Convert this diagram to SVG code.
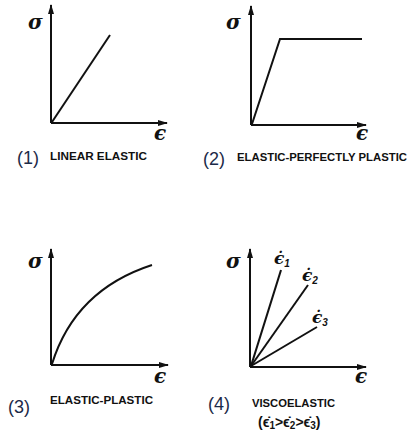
<svg xmlns="http://www.w3.org/2000/svg" width="409" height="440" viewBox="0 0 409 440">
<defs>
<marker id="ah" markerWidth="10" markerHeight="6" refX="9" refY="3" orient="auto" markerUnits="userSpaceOnUse">
<path d="M0,0 L10,3 L0,6 Z" fill="#111"/>
</marker>
</defs>
<style>
.ax{stroke:#111;stroke-width:2;fill:none}
.cv{stroke:#111;stroke-width:2;fill:none}
.gk{font-family:"DejaVu Serif","Liberation Serif",serif;font-style:italic;font-weight:bold;font-size:20px;fill:#111}
.sm{font-family:"DejaVu Serif","Liberation Serif",serif;font-style:italic;font-weight:bold;font-size:17px;fill:#111}
.sub{font-family:"Liberation Sans",sans-serif;font-size:10px;font-weight:bold;fill:#111}
.num{font-family:"Liberation Sans",Arial,sans-serif;font-size:18px;fill:#1c2a48}
.cap{font-family:"Liberation Sans",Arial,sans-serif;font-size:10px;font-weight:bold;fill:#111}
.cap2{font-family:"Liberation Sans",Arial,sans-serif;font-size:14px;font-weight:bold;fill:#111}
</style>
<rect width="409" height="440" fill="#fff"/>
<g id="connectors">
<path class="ax" d="M51,123 L51,5" marker-end="url(#ah)"/>
<path class="ax" d="M51,123 L167,123" marker-end="url(#ah)"/>
<path class="ax" d="M251,125 L251,6" marker-end="url(#ah)"/>
<path class="ax" d="M251,125 L366,125" marker-end="url(#ah)"/>
<path class="ax" d="M51,365 L51,249" marker-end="url(#ah)"/>
<path class="ax" d="M51,365 L168,365" marker-end="url(#ah)"/>
<path class="ax" d="M250,367 L250,249" marker-end="url(#ah)"/>
<path class="ax" d="M250,367 L366,367" marker-end="url(#ah)"/>
</g>
<g id="panel1">
<path class="cv" d="M52,122 L110,35"/>
<text class="gk" x="28" y="29">σ</text>
<text class="gk" x="154" y="140">ϵ</text>
<text class="num" x="17" y="164">(1)</text>
<text class="cap" x="50" y="160" textLength="97" lengthAdjust="spacingAndGlyphs">LINEAR ELASTIC</text>
</g>
<g id="panel2">
<path class="cv" d="M252,124 L280,39 L362,39"/>
<text class="gk" x="226" y="29">σ</text>
<text class="gk" x="356" y="140">ϵ</text>
<text class="num" x="203" y="165">(2)</text>
<text class="cap" x="237" y="161" textLength="170" lengthAdjust="spacingAndGlyphs">ELASTIC-PERFECTLY PLASTIC</text>
</g>
<g id="panel3">
<path class="cv" d="M52,364 Q75,290 152,265"/>
<text class="gk" x="28" y="268">σ</text>
<text class="gk" x="154" y="383">ϵ</text>
<text class="num" x="8" y="413">(3)</text>
<text class="cap" x="50" y="404" textLength="103" lengthAdjust="spacingAndGlyphs">ELASTIC-PLASTIC</text>
</g>
<g id="panel4">
<path class="cv" d="M251,366 L281,270"/>
<path class="cv" d="M251,366 L308,285"/>
<path class="cv" d="M251,366 L317,327"/>
<text class="gk" x="226" y="268">σ</text>
<text class="gk" x="355" y="383">ϵ</text>
<text class="sm" x="274" y="264">ϵ̇<tspan class="sub" dy="3">1</tspan></text>
<text class="sm" x="302" y="281">ϵ̇<tspan class="sub" dy="3">2</tspan></text>
<text class="sm" x="312" y="323">ϵ̇<tspan class="sub" dy="3">3</tspan></text>
<text class="num" x="208" y="410">(4)</text>
<text class="cap" x="252" y="407" textLength="83" lengthAdjust="spacingAndGlyphs">VISCOELASTIC</text>
<text class="cap2" x="258" y="427">(ϵ̇<tspan style="font-size:10px" dy="2">1</tspan><tspan dy="-2">&gt;ϵ̇</tspan><tspan style="font-size:10px" dy="2">2</tspan><tspan dy="-2">&gt;ϵ̇</tspan><tspan style="font-size:10px" dy="2">3</tspan><tspan dy="-2">)</tspan></text>
</g>
</svg>
